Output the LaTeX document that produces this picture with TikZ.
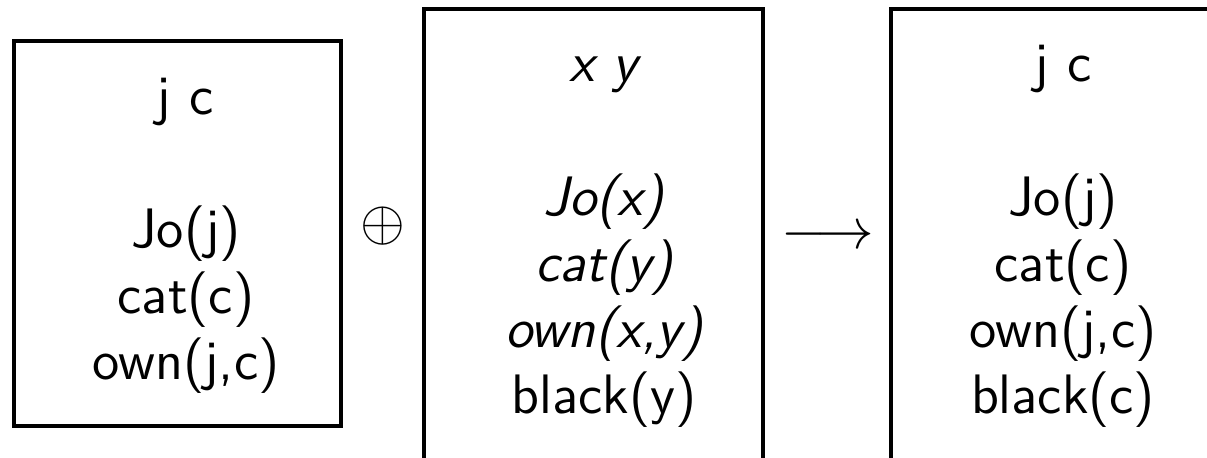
\documentclass[tikz,border=0pt]{standalone}
\usepackage{fontspec}
\usepackage{tikz}
\usetikzlibrary{positioning}

\tikzset{
  drsbox/.style={draw, line width=1pt},
  drsfont/.style={font=\sffamily\fontsize{13.9}{16.5}\selectfont, inner sep=0pt},
  drstext/.style={drsfont, align=center, anchor=base},
}

\begin{document}
\begin{tikzpicture}[x=0.25pt, y=-0.25pt]
    \useasboundingbox (0,0) rectangle (1207,458);
    \clip (0,0) rectangle (1207,458);
    % the three boxes
    \draw[drsbox] (14,41) rectangle (341,426);
    \draw[drsbox] (424,9) rectangle (763,460);
    \draw[drsbox] (891,9) rectangle (1230,460);
    % first box (base = last line)
    \node[drstext] (refs1) at (185,115) {j c};
    \node[drstext] (conds1) at (186,380) {Jo(j)\\cat(c)\\own(j,c)};
    % second box
    \node[drstext] (refs2) at (603,82) {\itshape x y};
    \node[drstext] (conds2) at (604,413) {\itshape Jo(x)\\\itshape cat(y)\\\itshape own(x,y)\\black(y)};
    % result
    \node[drstext] (refs3) at (1063,82) {j c};
    \node[drstext] (conds3) at (1063,413) {Jo(j)\\cat(c)\\own(j,c)\\black(c)};
    % merge and arrow
    \node[drsfont] (merge) at (383,226) {$\oplus$};
    \node[drsfont] (yields) at (828,238) {$\longrightarrow$};
\end{tikzpicture}
\end{document}
